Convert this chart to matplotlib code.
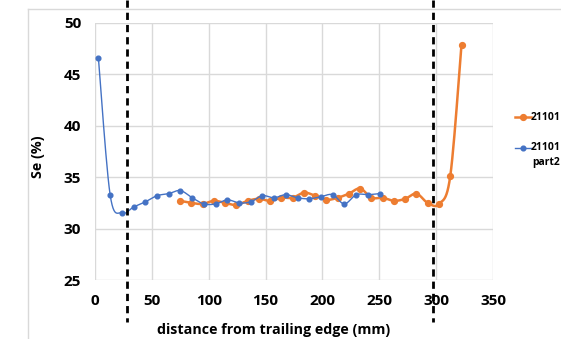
import numpy as np
import matplotlib
matplotlib.use("Agg")
import matplotlib.pyplot as plt
import matplotlib.transforms as mtransforms
from matplotlib.lines import Line2D

plt.rcParams['font.family'] = ['Open Sans', 'DejaVu Sans']
plt.rcParams['font.weight'] = 'bold'

# ---- data ----
x_part2 = [3, 13.3, 23.6, 33.9, 44.2, 54.5, 64.8, 75.1, 85.4, 95.7, 106, 116.3, 126.6,
           136.9, 147.2, 157.5, 167.8, 178.1, 188.4, 198.7, 209, 219.3, 229.6, 239.9, 250.2]
se_part2 = [46.6, 33.3, 31.5, 32.1, 32.6, 33.2, 33.4, 33.7, 33.0, 32.4, 32.4, 32.8, 32.5,
            32.6, 33.2, 33.0, 33.3, 33.0, 32.9, 33.1, 33.3, 32.4, 33.3, 33.3, 33.4]

x_21101 = [74.8, 84.7, 94.6, 104.5, 114.4, 124.3, 134.2, 144.1, 154, 163.9, 173.8, 183.7, 193.6,
           203.5, 213.4, 223.3, 233.2, 243.1, 253, 262.9, 272.8, 282.7, 292.6, 302.5, 312.4, 322.3]
se_21101 = [32.7, 32.5, 32.4, 32.7, 32.5, 32.3, 32.7, 32.9, 32.7, 33.0, 33.0, 33.5, 33.2,
            32.8, 33.0, 33.4, 33.9, 33.0, 33.0, 32.7, 32.9, 33.4, 32.5, 32.4, 35.1, 47.9]

edges = [28, 297]   # dashed marker lines

orange = '#ED7D31'
blue = '#4472C4'


def smooth(x, y, n=12):
    # excel-style smoothed line (catmull-rom as bezier)
    p = np.column_stack([x, y]).astype(float)
    p = np.vstack([p[0], p, p[-1]])
    out = [p[1]]
    t = np.linspace(0, 1, n + 1)[1:, None]
    for i in range(1, len(p) - 2):
        p0, p1, p2, p3 = p[i - 1], p[i], p[i + 1], p[i + 2]
        c1 = p1 + (p2 - p0) / 6
        c2 = p2 - (p3 - p1) / 6
        seg = ((1 - t) ** 3) * p1 + 3 * ((1 - t) ** 2) * t * c1 + 3 * (1 - t) * t ** 2 * c2 + t ** 3 * p2
        out.extend(seg)
    out = np.array(out)
    return out[:, 0], out[:, 1]


fig = plt.figure(figsize=(5.61, 3.39), dpi=100)
ax = fig.add_axes([95 / 561, 1 - 280 / 339, 398 / 561, 257 / 339])

# chart area border (light grey)
fig.add_artist(Line2D([28 / 561, 28 / 561], [0, 1 - 9 / 339], transform=fig.transFigure, color='#d9d9d9', lw=1))
fig.add_artist(Line2D([28 / 561, 1], [1 - 9 / 339, 1 - 9 / 339], transform=fig.transFigure, color='#d9d9d9', lw=1))

sx, sy = smooth(x_21101, se_21101)
ax.plot(sx, sy, color=orange, lw=1.8, zorder=3)
ax.plot(x_21101, se_21101, 'o', color=orange, ms=4.2, zorder=3)

sx, sy = smooth(x_part2, se_part2)
ax.plot(sx, sy, color=blue, lw=1.0, zorder=4)
ax.plot(x_part2, se_part2, 'o', color=blue, ms=3.4, zorder=4)

trans = mtransforms.blended_transform_factory(ax.transData, ax.transAxes)
for e in edges:
    ax.plot([e, e], [1.09, -0.163], transform=trans, color='black', lw=2,
            linestyle=(0, (2.6, 1.8)), clip_on=False, zorder=5)

ax.set_xlim(0, 350)
ax.set_ylim(25, 50)
ax.set_xticks(np.arange(0, 351, 50))
ax.set_yticks(np.arange(25, 51, 5))
ax.grid(True, color='#d9d9d9', lw=1)
ax.set_axisbelow(True)
for s in ax.spines.values():
    s.set_visible(False)
ax.tick_params(length=0, labelsize=11, pad=10)
for lb in ax.get_xticklabels() + ax.get_yticklabels():
    lb.set_fontweight('bold')

ax.set_xlabel('distance from trailing edge (mm)', fontsize=10.3, fontweight='bold')
ax.xaxis.set_label_coords(0.45, -0.168)
ax.set_ylabel('Se (%)', fontsize=10.3, fontweight='bold')
ax.yaxis.set_label_coords(-0.125, 0.48)

# legend on the right
for yy, col, ms, lw, lab in [(117, orange, 4.2, 1.8, '21101'), (148, blue, 3.4, 1.0, '21101')]:
    fy = 1 - yy / 339
    fig.add_artist(Line2D([515 / 561, 531 / 561], [fy, fy], transform=fig.transFigure, color=col, lw=lw))
    fig.add_artist(Line2D([523 / 561], [fy], transform=fig.transFigure, marker='o', color=col, ms=ms))
    fig.text(531 / 561, fy, lab, fontsize=7.5, fontweight='bold', va='center', ha='left')
fig.text(532 / 561, 1 - 163 / 339, 'part2', fontsize=7.5, fontweight='bold', va='center', ha='left')

fig.savefig('out.png', dpi=100)
